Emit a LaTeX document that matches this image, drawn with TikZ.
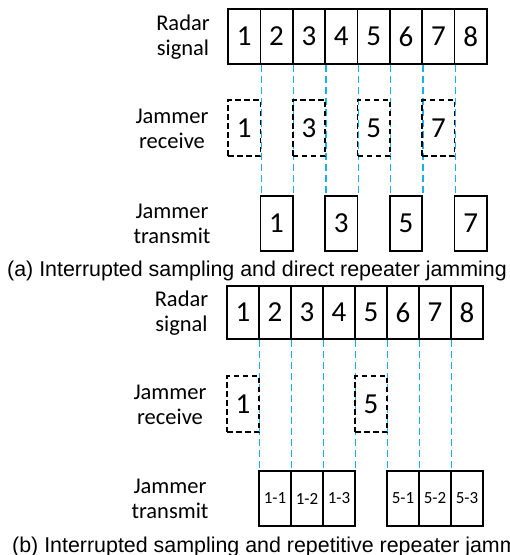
\documentclass[tikz,border=0pt]{standalone}
\usepackage{fontspec}
\setmainfont{Carlito}
\newfontfamily\capfont{Liberation Sans}
\usetikzlibrary{backgrounds}
\definecolor{guide}{RGB}{25,175,232}
\begin{document}
\begin{tikzpicture}[x=1pt,y=-1pt,
  cell/.style={draw, line width=1.6pt, inner sep=0pt, anchor=center,
    minimum width=#1, font=\fontsize{29}{31}\selectfont},
  cell/.default=32.375pt,
  rx/.style={cell=#1, dash pattern=on 5.5pt off 3.5pt},
  rx/.default=32.375pt,
  smalltext/.style={font=\fontsize{17}{19}\selectfont},
  lbl/.style={align=center, font=\fontsize{22.5}{25}\selectfont, inner sep=0pt},
  captext/.style={anchor=base west, inner sep=0pt, font=\capfont\fontsize{21.4}{24}\selectfont},
  guideline/.style={draw=guide, line width=1.3pt, dash pattern=on 7pt off 4pt}]
\useasboundingbox (0,0) rectangle (510,555);
% ---------- panel (a) ----------
\foreach \i in {1,...,8}
  \node[cell, minimum height=55pt] (a-r\i) at ({228+(\i-0.5)*32.375},36.5) {\i};
\foreach \i in {1,3,5,7}
  \node[rx, minimum height=56pt] (a-j\i) at ({228+(\i-0.5)*32.375},128) {\i};
\foreach \i/\t in {2/1,4/3,6/5,8/7}
  \node[cell, minimum height=55pt] (a-t\i) at ({228+(\i-0.5)*32.375},223.5) {\t};
\begin{scope}[on background layer]
  \foreach \i in {1,...,7}
    \draw[guideline] (a-r\i.south east) -- (a-r\i.south east |- a-t2.north);
\end{scope}
\node[lbl] (a-l1) at (183,37) {Radar\\signal};
\node[lbl] (a-l2) at (172,129) {Jammer\\receive};
\node[lbl] (a-l3) at (172,224) {Jammer\\transmit};
\node[captext] (a-cap) at (7,276) {(a) Interrupted sampling and direct repeater jamming};
% ---------- panel (b) ----------
\foreach \i in {1,...,8}
  \node[cell=32pt, minimum height=53pt] (b-r\i) at ({227+(\i-0.5)*32},312.5) {\i};
\foreach \i in {1,5}
  \node[rx=32pt, minimum height=56pt] (b-j\i) at ({227+(\i-0.5)*32},404) {\i};
\foreach \i/\t in {2/1-1,3/1-2,4/1-3,6/5-1,7/5-2,8/5-3}
  \node[cell=32pt, smalltext, minimum height=55pt] (b-t\i) at ({227+(\i-0.5)*32},498.5) {\t};
\begin{scope}[on background layer]
  \foreach \i in {1,...,7}
    \draw[guideline] (b-r\i.south east) -- (b-r\i.south east |- b-t2.north);
\end{scope}
\node[lbl] (b-l1) at (181.5,313) {Radar\\signal};
\node[lbl] (b-l2) at (170,405) {Jammer\\receive};
\node[lbl] (b-l3) at (170,499) {Jammer\\transmit};
\node[captext] (b-cap) at (12,552) {(b) Interrupted sampling and repetitive repeater jamming};
\end{tikzpicture}
\end{document}
